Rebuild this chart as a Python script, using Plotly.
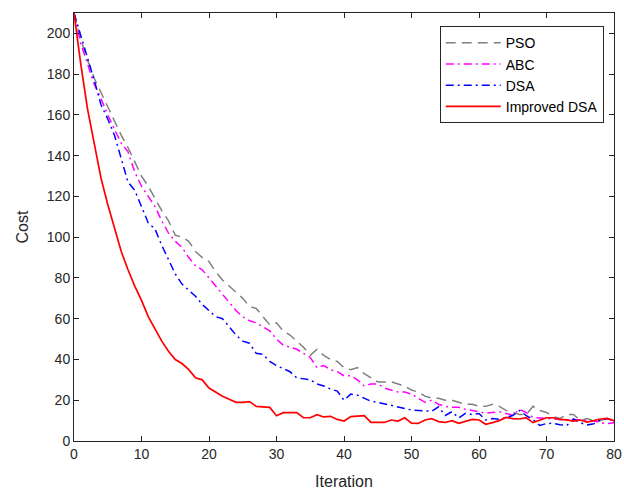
import plotly.graph_objects as go

iterations = list(range(0, 81))

pso = [210, 197, 187, 178, 171, 164, 157, 150, 144, 137,
       130, 125, 119, 113, 108, 101, 100, 98, 93, 90,
       88, 83, 79, 76, 73, 70, 66, 65, 61, 57,
       58, 54, 52, 49, 46, 42, 45, 42, 40, 39,
       36, 35, 36, 33, 31, 29, 29, 29, 28, 27,
       25, 24, 22, 21, 21, 20, 20, 19, 18, 18,
       17, 17, 18, 17, 15, 14, 13, 13, 17, 15,
       14, 12, 11, 13, 13, 10, 11, 10, 10, 11, 9.5]

abc = [210, 195, 185, 175, 168, 160, 153, 146, 142, 132,
       125, 120, 115, 108, 102, 98, 95, 90, 86, 84,
       80, 76, 72, 68, 64, 61, 59, 58, 56, 54,
       50, 47, 46, 45, 43, 41, 36, 37, 35, 34,
       32, 32, 30, 27, 28, 28, 26, 25, 24, 24,
       23, 21, 19, 20, 18, 17, 16.5, 16.5, 15.5, 15,
       14.4, 13.6, 14, 14.4, 13.5, 12.7, 15.5, 14, 11.6, 11.3,
       11, 10.8, 10.5, 10.3, 10.6, 10.4, 10, 9.8, 9, 8.5, 9]

dsa = [210, 199, 189, 177, 165, 158, 150, 138, 127, 123,
       115, 107, 104, 96, 89, 82, 77, 74, 71, 67,
       64, 61, 60, 56, 52, 49, 48, 43, 42.5, 39,
       37, 35.5, 34, 31, 30.5, 30, 28, 27, 25.5, 24.5,
       20, 23, 22.5, 21, 19.5, 19, 18.3, 17.5, 16.8, 16,
       15.2, 15, 14.8, 14.6, 16.8, 12.5, 14.4, 11.3, 13.6, 13,
       13.5, 10.3, 11, 10.6, 11.5, 12.5, 15, 12.5, 10.5, 7.6,
       8.6, 8.7, 8, 7.6, 10.8, 9, 7.8, 8.5, 10.2, 11, 9.8]

improved_dsa = [210, 185, 163, 145, 129, 116, 104, 93, 84, 76,
                69, 61, 55, 49, 44, 40, 38, 35, 31, 30,
                26, 24, 22, 20.5, 19, 19, 19.3, 17, 16.8, 16.5,
                12.4, 13.9, 13.9, 13.9, 11.4, 11.4, 12.9, 11.8, 12.1, 10.6,
                9.8, 12, 12.2, 12.4, 9.1, 9.1, 9.1, 10.3, 9.8, 11.4,
                8.8, 8.6, 10.3, 11, 9.5, 9.1, 10, 8.7, 9.5, 10.6,
                10.3, 8.2, 9, 10, 11.6, 11, 10.8, 11.4, 9, 10.3,
                11.4, 11.4, 10.6, 10.4, 9.8, 10.3, 9.3, 10, 10.8, 11.1, 10]

x_ticks = list(range(0, 81, 10))
y_ticks = list(range(0, 201, 20))

font_family = "Liberation Sans, Arial, sans-serif"
axis_color = "#262626"

fig = go.Figure()
fig.add_trace(go.Scatter(x=iterations, y=pso, mode="lines", name="PSO",
                         line=dict(color="#808080", width=1.5, dash="10px,6px")))
fig.add_trace(go.Scatter(x=iterations, y=abc, mode="lines", name="ABC",
                         line=dict(color="#FF00FF", width=1.5, dash="8px,4px,2px,4px")))
fig.add_trace(go.Scatter(x=iterations, y=dsa, mode="lines", name="DSA",
                         line=dict(color="#0000FF", width=1.5, dash="8px,4px,2px,4px")))
fig.add_trace(go.Scatter(x=iterations, y=improved_dsa, mode="lines", name="Improved DSA",
                         line=dict(color="#FF0000", width=1.7)))

axis_common = dict(
    showline=True, linecolor=axis_color, linewidth=1, mirror="ticks",
    ticks="inside", ticklen=5, tickcolor=axis_color, showgrid=False, zeroline=False,
    automargin=False,
    tickfont=dict(family=font_family, size=14, color=axis_color),
)

fig.update_layout(
    width=624, height=490,
    margin=dict(l=74, r=10, t=13, b=49),
    paper_bgcolor="white", plot_bgcolor="white",
    font=dict(family=font_family, color=axis_color),
    xaxis=dict(range=[0, 80], tickvals=x_ticks,
               title=dict(text="Iteration", font=dict(family=font_family, size=16, color=axis_color), standoff=18),
               **axis_common),
    yaxis=dict(range=[0, 210], tickvals=y_ticks,
               title=dict(text="Cost", font=dict(family=font_family, size=16, color=axis_color), standoff=14),
               **axis_common),
    legend=dict(x=0.981, y=0.969, xanchor="right", yanchor="top",
                bgcolor="white", bordercolor=axis_color, borderwidth=1,
                font=dict(family=font_family, size=14, color="black"),
                itemwidth=55, tracegroupgap=0),
    showlegend=True,
)

fig.write_html("out.html")
